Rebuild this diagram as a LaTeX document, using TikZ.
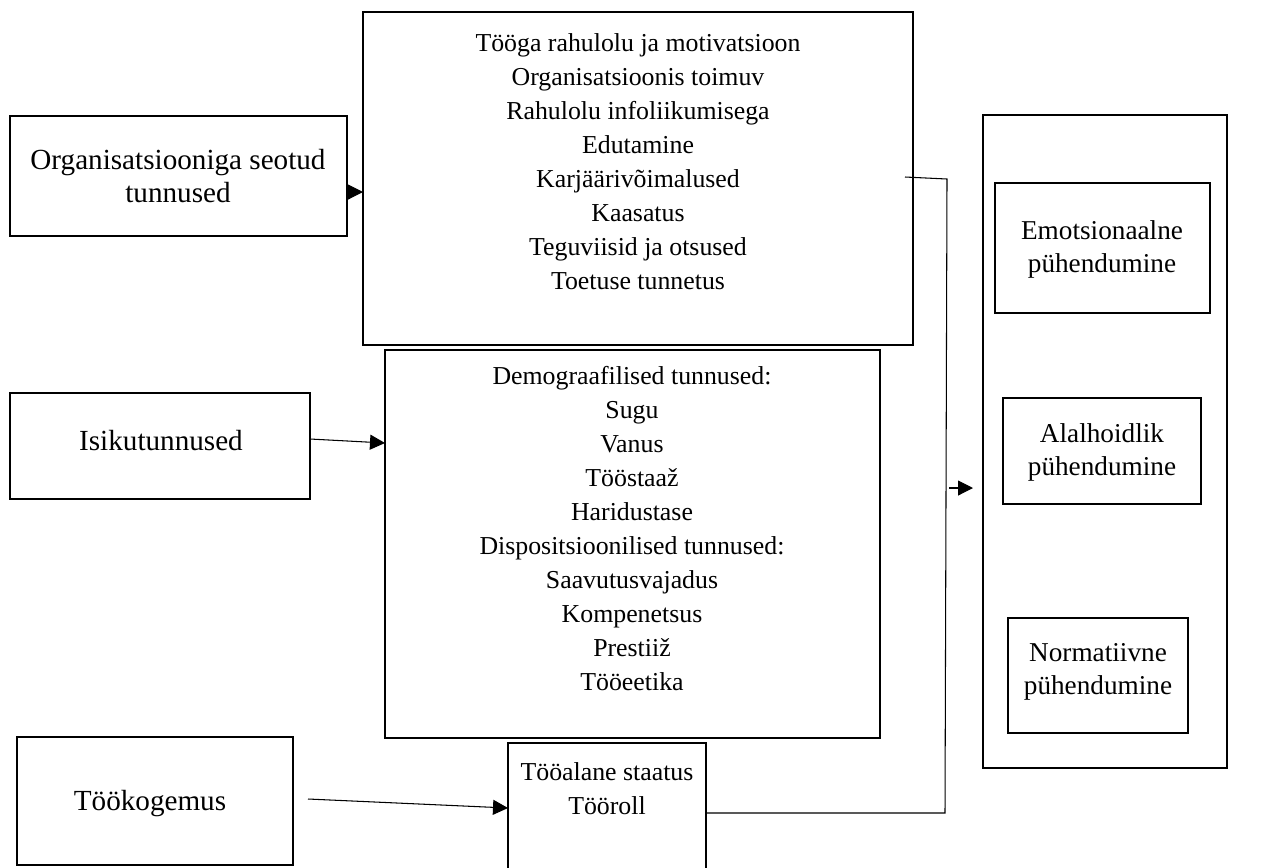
\documentclass[tikz,border=0pt]{standalone}
\usepackage{fontspec}
\setmainfont{Liberation Serif}
\usetikzlibrary{arrows.meta,calc,fit}
\begin{document}
\begin{tikzpicture}[x=0.02cm,y=-0.02cm,
  box/.style={draw, line width=1.3pt, inner sep=0pt, outer sep=0pt},
  txt/.style={align=center, inner sep=0pt, font=\fontsize{14.7pt}{19.35pt}\selectfont},
  big/.style={align=center, inner sep=0pt, font=\fontsize{16.6pt}{18.8pt}\selectfont},
  rtxt/.style={align=center, inner sep=0pt, font=\fontsize{15.5pt}{18.8pt}\selectfont},
  conn/.style={line width=0.6pt},
  arr/.style={line width=0.6pt, -{Triangle[length=0.3cm,width=0.3cm]}}]
\useasboundingbox (0,0) rectangle (1261,867);
% boxes
\node[box, fit={(10,116) (347,236)}] (org) {};
\node[box, fit={(363,12) (913,345)}] (top) {};
\node[box, fit={(10,393) (310,499)}] (isik) {};
\node[box, fit={(385,350) (880,738)}] (mid) {};
\node[box, fit={(17,737) (293,865)}] (kog) {};
\node[box, fit={(508,743) (706,870)}] (staat) {};
\node[box, fit={(983,115) (1227,768)}] (right) {};
\node[box, fit={(995,183) (1210,313)}] (emo) {};
\node[box, fit={(1003,398) (1201,504)}] (ala) {};
\node[box, fit={(1008,618) (1188,733)}] (norm) {};
% texts
\node[big] (orgt) at (178,176) {Organisatsiooniga seotud\\tunnused};
\node[txt, anchor=north] (topt) at (638,33) {Tööga rahulolu ja motivatsioon\\Organisatsioonis toimuv\\Rahulolu infoliikumisega\\Edutamine\\Karjäärivõimalused\\Kaasatus\\Teguviisid ja otsused\\Toetuse tunnetus};
\node[big] (isikt) at (161,441) {Isikutunnused};
\node[txt, anchor=north] (midt) at (632,366) {Demograafilised tunnused:\\Sugu\\Vanus\\Tööstaaž\\Haridustase\\Dispositsioonilised tunnused:\\Saavutusvajadus\\Kompenetsus\\Prestiiž\\Tööeetika};
\node[big] (kogt) at (150,804) {Töökogemus};
\node[txt, anchor=north] (staatt) at (607,762) {Tööalane staatus\\Tööroll};
\node[rtxt] (emot) at (1102,249) {Emotsionaalne\\pühendumine};
\node[rtxt] (alat) at (1102,452) {Alalhoidlik\\pühendumine};
\node[rtxt] (normt) at (1098,672) {Normatiivne\\pühendumine};
% connectors
\coordinate (c1) at (0,192);
\draw[arr] (org.east |- c1) -- (top.west |- c1);
\coordinate (i1) at (310,439);
\coordinate (i2) at (385,443);
\draw[arr] (i1) -- (mid.west |- i2);
\coordinate (k1) at (308,799);
\coordinate (k2) at (508,808);
\draw[arr] (k1) -- (staat.west |- k2);
\coordinate (b1) at (905,177);
\coordinate (b2) at (947,179);
\coordinate (b3) at (945,813);
\draw[conn] (b1) -- (b2) -- (b3) -- (staat.east |- b3);
\coordinate (r1) at (949,488);
\coordinate (r2) at (973,488);
\draw[arr] (r1) -- (r2);
\end{tikzpicture}
\end{document}
